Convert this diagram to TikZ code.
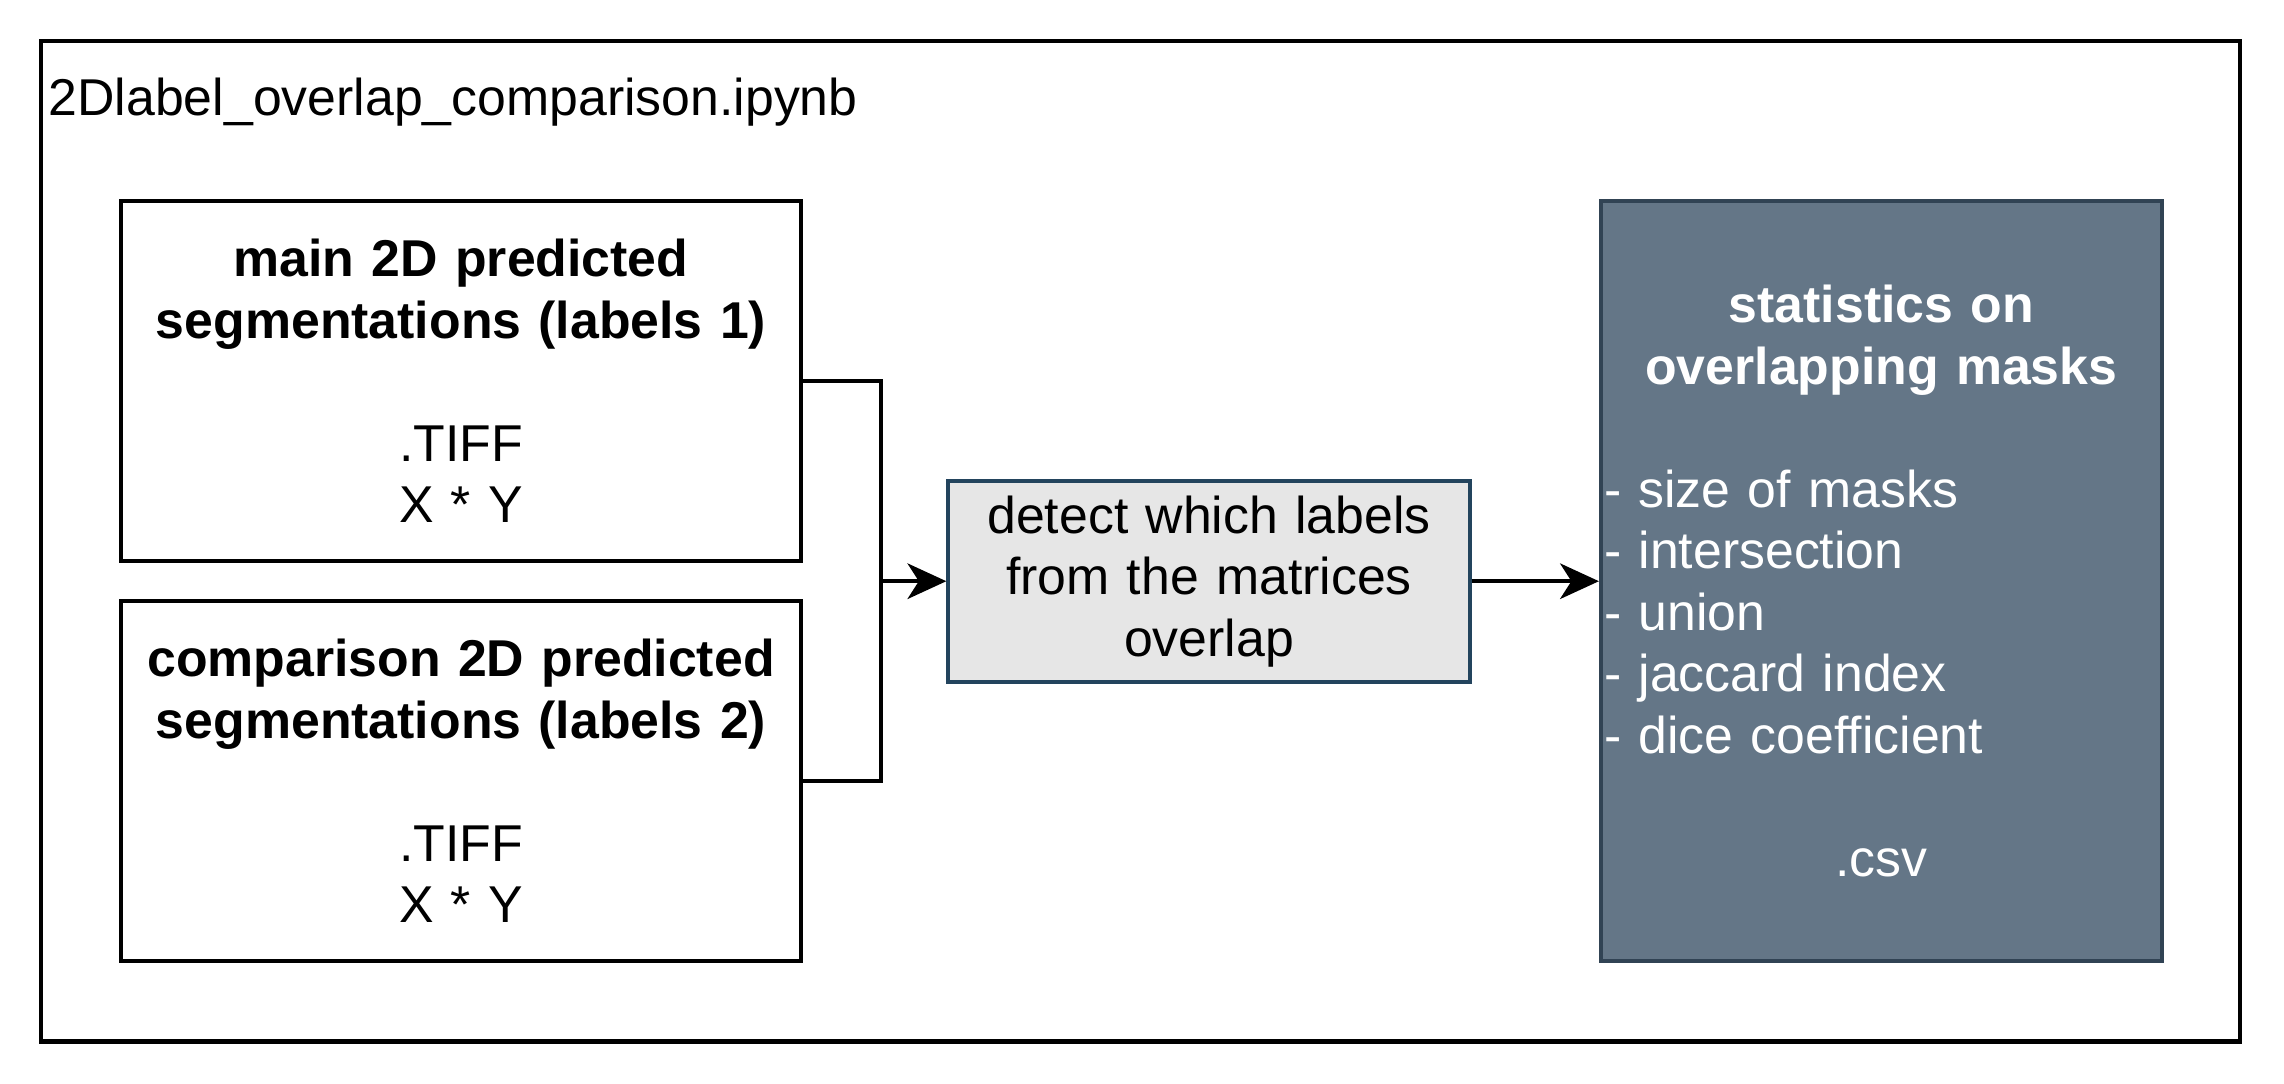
\documentclass[tikz,border=0pt]{standalone}
\usepackage{fontspec}
\setmainfont{Liberation Sans}
\setlength{\parindent}{0pt}
\usetikzlibrary{arrows.meta}
\definecolor{statfill}{HTML}{647687}
\definecolor{statline}{HTML}{314354}
\definecolor{detfill}{HTML}{E6E6E6}
\definecolor{detline}{HTML}{23445D}
\tikzset{
  filebox/.style={draw=black, fill=white, line width=1.2pt, inner xsep=0pt, inner ysep=0pt,
    minimum width=210.15pt, minimum height=111.15pt, text width=210.15pt, align=center},
  detectbox/.style={draw=detline, fill=detfill, line width=1.2pt, inner xsep=0pt, inner ysep=0pt,
    minimum width=161.1pt, minimum height=62.1pt, text width=161.1pt, align=center},
  statbox/.style={draw=statline, fill=statfill, text=white, line width=1.2pt, inner xsep=1pt, inner ysep=0pt,
    minimum width=173.25pt, minimum height=234.9pt, text width=171.25pt},
  wire/.style={line width=1.1pt}
}
\begin{document}
\begin{tikzpicture}[x=.45pt, y=-.45pt, font=\fontsize{16}{19}\selectfont,
  line join=miter, >={Stealth[length=12pt, width=11pt, inset=3.5pt]}]
\useasboundingbox (0,0) rectangle (1568,744);
% notebook frame
\draw[line width=1.3pt] (28,28) rectangle (1538,715);
\node[anchor=west, inner sep=0pt] (nbname) at (33,70) {2Dlabel\_overlap\_comparison.ipynb};
% inputs
\node[filebox] (labelsA) at (316.5,261.5) {\textbf{main 2D predicted\\segmentations (labels 1)}\\[19pt] .TIFF\\X * Y};
\node[filebox] (labelsB) at (316.5,536) {\textbf{comparison 2D predicted\\segmentations (labels 2)}\\[19pt] .TIFF\\X * Y};
% overlap step
\node[detectbox] (detect) at (830,399) {detect which labels\\from the matrices\\overlap};
% output
\node[statbox] (stats) at (1291.5,399) {%
  {\centering\bfseries statistics on\\overlapping masks\par}\vspace{19pt}
  {\raggedright - size of masks\\- intersection\\- union\\- jaccard index\\- dice coefficient\par}\vspace{19pt}
  {\centering .csv\par}};
\coordinate (merge) at (605,399);
\draw[wire] (labelsA.east) -| (merge);
\draw[wire] (labelsB.east) -| (merge);
\draw[wire,->] (merge) -- (detect.west);
\draw[wire,->] (detect.east) -- (stats.west);
\end{tikzpicture}
\end{document}
